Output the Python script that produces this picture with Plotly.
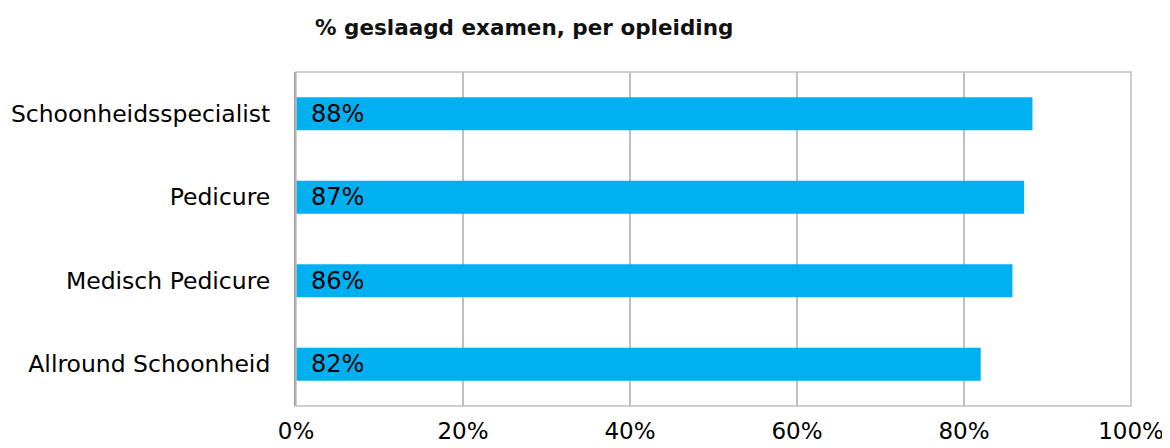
import plotly.graph_objects as go

categories = ["Schoonheidsspecialist", "Pedicure", "Medisch Pedicure", "Allround Schoonheid"]
values = [88.2, 87.2, 85.8, 82.0]
labels = ["88%", "87%", "86%", "82%"]
tick_vals = [0, 20, 40, 60, 80, 100]
tick_text = ["0%", "20%", "40%", "60%", "80%", "100%"]
title_text = "% geslaagd examen, per opleiding"

W, H = 1162, 440  # page body has an 8px margin

fig = go.Figure()
fig.add_trace(go.Bar(
    x=values, y=categories, orientation="h",
    marker=dict(color="#00B0F0", line=dict(width=0)),
    hoverinfo="skip",
))

for c, lab in zip(categories, labels):
    fig.add_annotation(x=0, y=c, text=lab, showarrow=False, xanchor="left",
                       xshift=13, font=dict(family="DejaVu Sans", size=24, color="#000000"))

fig.add_shape(type="rect", xref="paper", yref="paper", x0=0, x1=1, y0=0, y1=1,
              line=dict(color="#C0C0C0", width=1.5), layer="above")

fig.update_layout(
    width=W, height=H,
    margin=dict(l=288, r=39, t=64, b=42),
    paper_bgcolor="white", plot_bgcolor="white",
    bargap=0.605,
    showlegend=False,
    title=dict(text=title_text, x=307/W, xanchor="left", xref="container",
               y=1 - 19/H, yanchor="middle", yref="container",
               font=dict(family="DejaVu Sans", size=21.5, color="#111111", weight="bold")),
    xaxis=dict(range=[0, 100], tickvals=tick_vals, ticktext=tick_text,
               showgrid=True, gridcolor="#C0C0C0", gridwidth=1.5,
               zeroline=False, showline=False, ticks="", automargin=False,
               ticklabelstandoff=9,
               tickfont=dict(family="DejaVu Sans", size=23, color="#000000")),
    yaxis=dict(autorange="reversed", showgrid=False, zeroline=False, automargin=False,
               showline=True, linecolor="#999999", linewidth=2, ticks="",
               ticklabelstandoff=19,
               tickfont=dict(family="DejaVu Sans", size=23.5, color="#000000")),
)

fig.write_html("out.html")
